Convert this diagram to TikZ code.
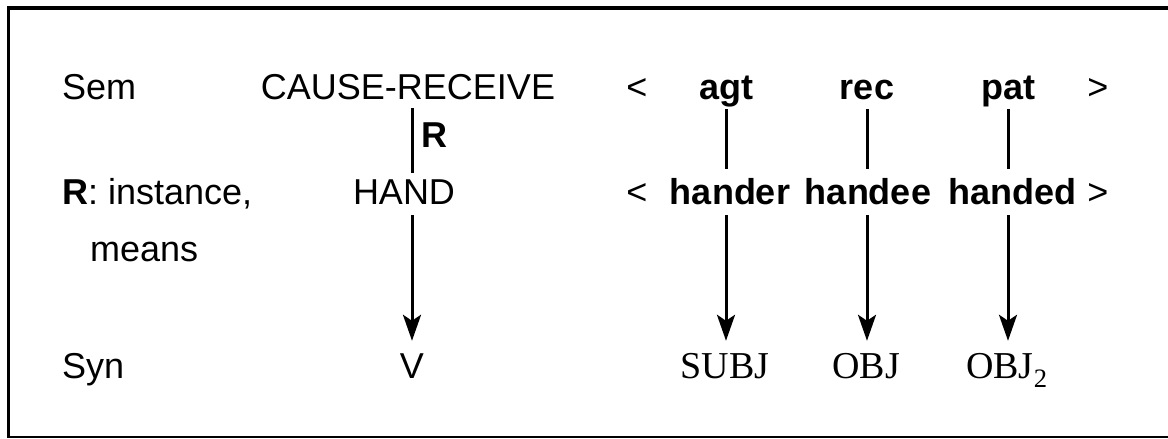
\documentclass[tikz,border=0pt]{standalone}
\usepackage{fontspec}
\setmainfont{Liberation Sans}
\newfontfamily\serifjl{Liberation Serif}
\usetikzlibrary{arrows.meta}
\begin{document}
\begin{tikzpicture}[x=1pt,y=-1pt,
  lbl/.style={inner sep=0pt, text height=27pt, text depth=8pt, font=\fontsize{36}{42}\selectfont},
  bf/.style={lbl, font=\fontsize{36}{42}\selectfont\bfseries},
  sr/.style={lbl, font=\fontsize{38}{44}\selectfont\serifjl},
  link/.style={line width=3pt},
  arr/.style={line width=3pt, -{Stealth[length=26pt,width=18pt,inset=6pt]}}
]
\useasboundingbox (0,0) rectangle (1168,439);
\draw[line width=3.5pt] (1200,8) -- (8.5,8) -- (8.5,437);
\draw[line width=2.5pt] (7,437) -- (1200,437);
% left column
\node[lbl, anchor=base west] (sem) at (62,99) {Sem};
\node[lbl, anchor=base west] (rinst) at (62,204) {\textbf{R}: instance,};
\node[lbl, anchor=base west] (means) at (90,261) {means};
\node[lbl, anchor=base west] (syn) at (62,378) {Syn};
% predicate column
\node[lbl, anchor=base] (cause) at (408,99) {CAUSE-RECEIVE};
\node[lbl, anchor=base] (hand) at (404,204) {HAND};
\node[lbl, anchor=base] (v) at (412,378) {V};
% argument frames
\node[lbl, anchor=base] (lt1) at (637,99) {<};
\node[bf, anchor=base] (agt) at (726,99) {agt};
\node[bf, anchor=base] (rec) at (867,99) {rec};
\node[bf, anchor=base] (pat) at (1008,99) {pat};
\node[lbl, anchor=base] (gt1) at (1098,99) {>};
\node[lbl, anchor=base] (lt2) at (637,204) {<};
\node[bf, anchor=base] (hander) at (730,204) {hander};
\node[bf, anchor=base] (handee) at (868,204) {handee};
\node[bf, anchor=base] (handed) at (1012,204) {handed};
\node[lbl, anchor=base] (gt2) at (1098,204) {>};
\node[sr, anchor=base] (subj) at (725,378) {SUBJ};
\node[sr, anchor=base] (obj) at (866,378) {OBJ};
\node[sr, anchor=base west] (objb) at (966,378) {OBJ\textsubscript{2}};
% connectors
\draw[link, shorten <=1pt, shorten >=4pt] (v.north |- cause.south) -- node[bf, anchor=west, xshift=8pt, yshift=4pt] (rlab) {R} (v.north |- hand.north);
\draw[link, shorten <=2pt, shorten >=8pt] (agt.south) -- (agt.south |- hander.north);
\draw[link, shorten <=2pt, shorten >=8pt] (rec.south) -- (rec.south |- handee.north);
\draw[link, shorten <=2pt, shorten >=8pt] (pat.south) -- (pat.south |- handed.north);
\draw[arr, shorten <=3pt, shorten >=10pt] (v.north |- hand.south) -- (v.north);
\draw[arr, shorten <=3pt, shorten >=10pt] (agt.south |- hander.south) -- (agt.south |- subj.north);
\draw[arr, shorten <=3pt, shorten >=10pt] (rec.south |- handee.south) -- (rec.south |- obj.north);
\draw[arr, shorten <=3pt, shorten >=10pt] (pat.south |- handed.south) -- (pat.south |- objb.north);
\end{tikzpicture}
\end{document}
